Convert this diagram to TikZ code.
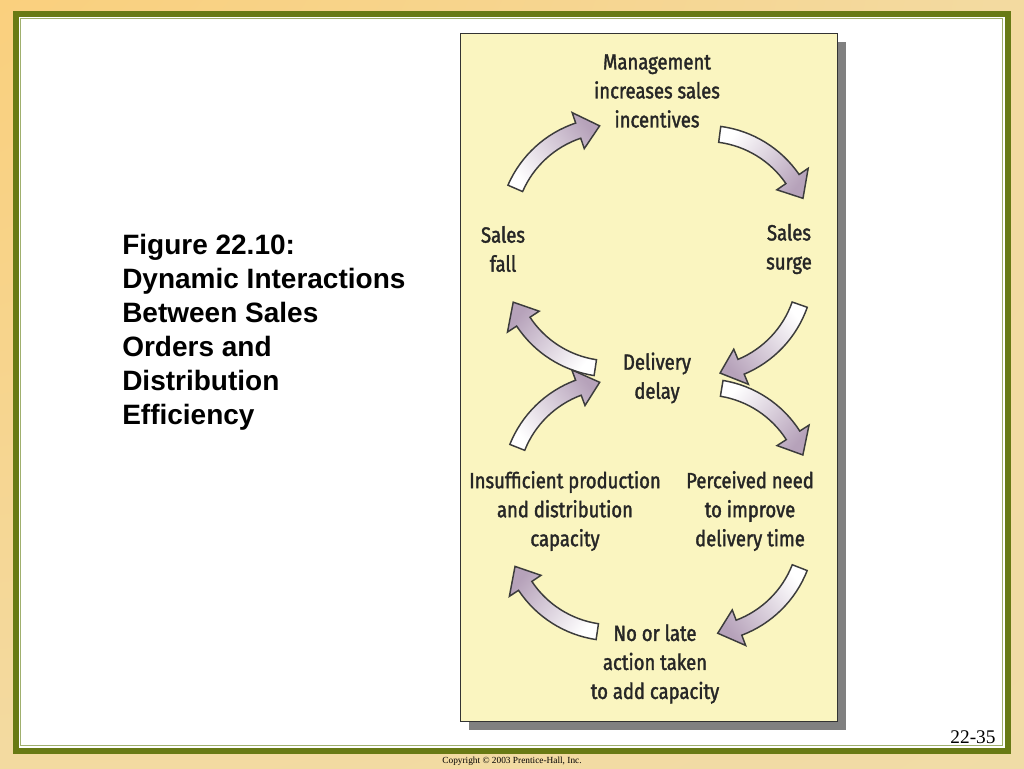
\documentclass[tikz,border=0pt]{standalone}
\usepackage{fontspec}
\usepackage{xcolor}
\setmainfont{Liberation Serif}
\newfontfamily\titlefont{Liberation Sans}
\newfontfamily\stagefont[FakeStretch=0.84,FakeBold=1.6]{Fira Sans}
\definecolor{bgorange}{RGB}{255,200,100}
\definecolor{bgmid}{RGB}{243,218,160}
\definecolor{bgpale}{RGB}{228,228,196}
\definecolor{framegreen}{RGB}{104,122,20}
\definecolor{framelight}{RGB}{160,176,110}
\definecolor{paper}{RGB}{250,245,192}
\definecolor{shadowgrey}{RGB}{128,128,128}
\definecolor{mauve}{RGB}{182,162,186}
\colorlet{inkdark}{black!85}
\pgfdeclareradialshading{slideglow}{\pgfpoint{-50bp}{50bp}}{color(0bp)=(bgorange); color(55bp)=(bgmid); color(145bp)=(bgpale)}

\tikzset{
  stage/.style={align=center, text=inkdark, inner sep=0pt,
    font=\stagefont\fontsize{16.5pt}{21.75pt}\selectfont},
  arrowbody/.style={draw=inkdark!90, line width=1.1pt, line join=miter,
    top color=white, bottom color=mauve},
}

% curved block arrow from tail coordinate #1 towards tip coordinate #2
\newcommand{\cyclearrow}[2]{%
  \pgfmathanglebetweenpoints{\pgfpointanchor{#1}{center}}{\pgfpointanchor{#2}{center}}%
  \let\arrang\pgfmathresult
  \pgfmathsetmacro\shadang{\arrang+90}%
  \begin{scope}[shift={(#1)}, rotate=\arrang, shift={(52.5,-91.4)}]
    \shade[arrowbody, shading angle=\shadang]
      (120:113) arc[start angle=120, end angle=72, radius=113]
      -- (72:124) -- (60:105) -- (72:86) -- (72:97)
      arc[start angle=72, end angle=120, radius=97] -- cycle;
  \end{scope}}

\begin{document}
\begin{tikzpicture}[x=0.75pt, y=0.75pt]
	\useasboundingbox (0,0) rectangle (1024,-768);
	% slide background and frame
	\shade[shading=slideglow] (0,0) rectangle (1024,-768);
	\fill[white] (13,-11) rectangle (1010,-753);
	\draw[framegreen, line width=4.5pt] (15.5,-13.5) rectangle (1007.5,-750.5);
	\draw[framelight, line width=1pt] (20.5,-18.5) rectangle (1002.5,-745.5);
	% paper sheet
	\fill[shadowgrey] (469,-42) rectangle (846,-730);
	\filldraw[fill=paper, draw=black!80, line width=0.6pt] (460,-33) rectangle (837,-721);

	\node	(title) at (122,-234) [anchor=north west, align=left, inner sep=0pt,
		font=\titlefont\bfseries\fontsize{21pt}{25.5pt}\selectfont]
		{Figure 22.10:\\Dynamic Interactions\\Between Sales\\Orders and\\Distribution\\Efficiency};

	\node	(mgmt) at (657,-91) [stage] {Management\\increases sales\\incentives};
	\node	(fall) at (503,-249) [stage] {Sales\\fall};
	\node	(surge) at (789,-249) [stage] {Sales\\surge};
	\node	(delay) at (657,-378) [stage] {Delivery\\delay};
	\node	(insuff) at (565,-511) [stage] {Insufficient production\\and distribution\\capacity};
	\node	(need) at (750,-511) [stage] {Perceived need\\to improve\\delivery time};
	\node	(nolate) at (655,-664) [stage] {No or late\\action taken\\to add capacity};

	% tails and tips of the cycle arrows
	\coordinate (t1) at (515,-188);	\coordinate (h1) at (600,-125);
	\coordinate (t2) at (720,-134);	\coordinate (h2) at (802,-197);
	\coordinate (t3) at (800,-305);	\coordinate (h3) at (722,-372);
	\coordinate (t4) at (595,-368);	\coordinate (h4) at (511,-301);
	\coordinate (t5) at (517,-447);	\coordinate (h5) at (598,-383);
	\coordinate (t6) at (722,-388);	\coordinate (h6) at (800,-452);
	\coordinate (t7) at (800,-568);	\coordinate (h7) at (720,-632);
	\coordinate (t8) at (597,-632);	\coordinate (h8) at (510,-563);
	\foreach \k in {1,...,8}
		{\cyclearrow{t\k}{h\k}}

	\node	(page) at (973,-737) [font=\fontsize{14.5pt}{16pt}\selectfont, inner sep=0pt] {22-35};
	\node	(copy) at (512,-761) [font=\fontsize{7pt}{8pt}\selectfont, inner sep=0pt] {Copyright © 2003 Prentice-Hall, Inc.};
\end{tikzpicture}
\end{document}
